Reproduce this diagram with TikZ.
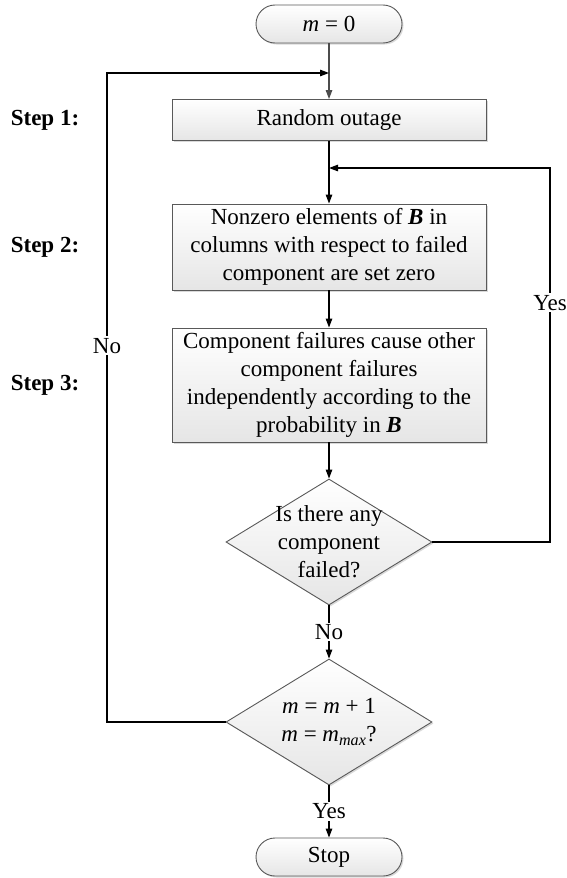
\documentclass[tikz,border=0pt]{standalone}
\usepackage{fontspec}
\setmainfont{Liberation Serif}
\usetikzlibrary{shapes.geometric,positioning,shadows,arrows.meta}

\tikzset{
  boxshade/.style={draw=black!65,line width=0.9pt,top color=white,bottom color=black!10,
    drop shadow={shadow xshift=1.5pt,shadow yshift=-1.5pt,opacity=0.3}},
  process/.style={rectangle,boxshade,minimum width=314pt,align=center,inner sep=2pt},
  terminal/.style={rectangle,boxshade,rounded corners=19pt,minimum width=146pt,minimum height=38pt},
  decision/.style={diamond,boxshade,minimum width=206pt,minimum height=126pt,inner sep=0pt},
  steplabel/.style={font=\fontsize{23}{28}\selectfont\bfseries},
  answer/.style={fill=white,inner sep=1.5pt},
  line/.style={draw,line width=1.2pt}
}

\begin{document}
\begin{tikzpicture}[x=1pt,y=1pt,on grid,
  >={Triangle[length=9pt,width=6.5pt]},
  every node/.append style={font=\fontsize{23}{28}\selectfont}]
\useasboundingbox (0,0) rectangle (567,-878);

\node[terminal]                    (start)   at (329,-24) {\textit{m} = 0};
\node[process,minimum height=41pt] (outage)  [below=96pt of start] {Random outage};
\node[process,minimum height=86pt] (zero)    [below=127pt of outage]
  {Nonzero elements of \textbf{\textit{B}} in\\columns with respect to failed\\component are set zero};
\node[process,minimum height=114pt] (cascade) [below=138pt of zero]
  {Component failures cause other\\component failures\\independently according to the\\probability in \textbf{\textit{B}}};
\node[decision,label={[align=center]center:Is there any\\component\\failed?}] (anyfail) [below=157pt of cascade] {};
\node[decision,label={[align=center]center:\textit{m} = \textit{m} + 1\\\textit{m} = \textit{m}\textsubscript{\textit{max}}?}] (count) [below=180pt of anyfail] {};
\node[terminal]                    (stop)    [below=135pt of count] {Stop};

% step labels
\node[steplabel] (step1) [left=284pt of outage]  {Step 1:};
\node[steplabel] (step2) [left=284pt of zero]    {Step 2:};
\node[steplabel] (step3) [left=284pt of cascade] {Step 3:};

% loop corners
\coordinate (topjoin)  at (329,-73);
\coordinate (backleft) at (107,-73);
\coordinate (midjoin)  at (329,-168);
\coordinate (backright) at (550,-168);

\draw[line,draw=black!70,->] (start) -- (outage);
\draw[line,->] (outage) -- (zero);
\draw[line,->] (zero) -- (cascade);
\draw[line,->] (cascade) -- (anyfail);
\draw[line,->] (anyfail) -- node[answer] {No} (count);
\draw[line,->] (count) -- node[answer] {Yes} (stop);
\draw[line,->] (count.west) -| node[answer,pos=0.79] {No} (backleft) -- (topjoin);
\draw[line,->] (anyfail.east) -| node[answer,pos=0.82] {Yes} (backright) -- (midjoin);
\end{tikzpicture}
\end{document}
